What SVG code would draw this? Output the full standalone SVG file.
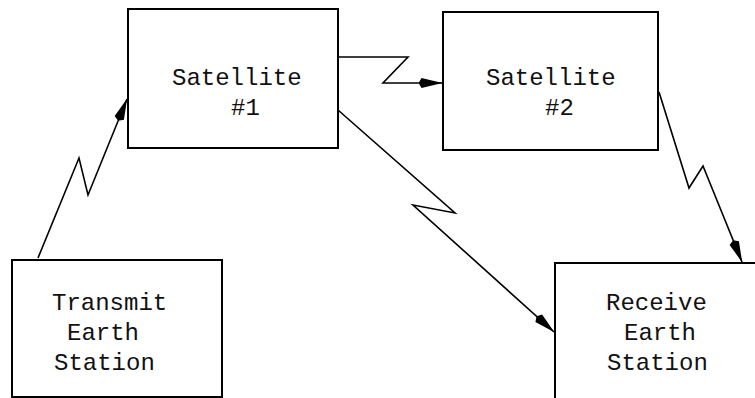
<svg xmlns="http://www.w3.org/2000/svg" width="755" height="398" viewBox="0 0 755 398">
  <style>
    .box { fill: #ffffff; stroke: #000000; stroke-width: 2; }
    .label { font-family: "Liberation Mono", "DejaVu Sans Mono", monospace; font-size: 24px; fill: #111111; }
    .link { fill: none; stroke: #000000; stroke-width: 1.6; stroke-linejoin: miter; marker-end: url(#arrow); }
  </style>
  <defs>
    <marker id="arrow" markerUnits="userSpaceOnUse" markerWidth="24" markerHeight="12" viewBox="0 0 24 12" refX="23.5" refY="6" orient="auto">
      <path d="M0,6 L3,1 L24,6 L3,11 Z" fill="#000000"/>
    </marker>
  </defs>

  <!-- radio links with zig-zag symbols -->
  <g id="connectors">
    <polyline class="link" points="38,258 79,158 88,195 127,99"/>
    <polyline class="link" points="338,57 408,57 383,83 442,83"/>
    <polyline class="link" points="338,110 455,213 413,205 554,332"/>
    <polyline class="link" points="659,92 689,188 703,166 742,262"/>
  </g>

  <g id="satellite1">
    <rect class="box" x="128" y="9" width="210" height="139"/>
    <text class="label" x="172" y="85">Satellite</text>
    <text class="label" x="231" y="115">#1</text>
  </g>

  <g id="satellite2">
    <rect class="box" x="443" y="12" width="215" height="138"/>
    <text class="label" x="486" y="85">Satellite</text>
    <text class="label" x="545" y="115">#2</text>
  </g>

  <g id="transmit-station">
    <rect class="box" x="12" y="260" width="210" height="137"/>
    <text class="label" x="52" y="310">Transmit</text>
    <text class="label" x="67" y="340">Earth</text>
    <text class="label" x="54" y="370">Station</text>
  </g>

  <g id="receive-station">
    <path class="box" d="M756,263 H555 V399"/>
    <text class="label" x="606" y="310">Receive</text>
    <text class="label" x="624" y="340">Earth</text>
    <text class="label" x="607" y="370">Station</text>
  </g>
</svg>
